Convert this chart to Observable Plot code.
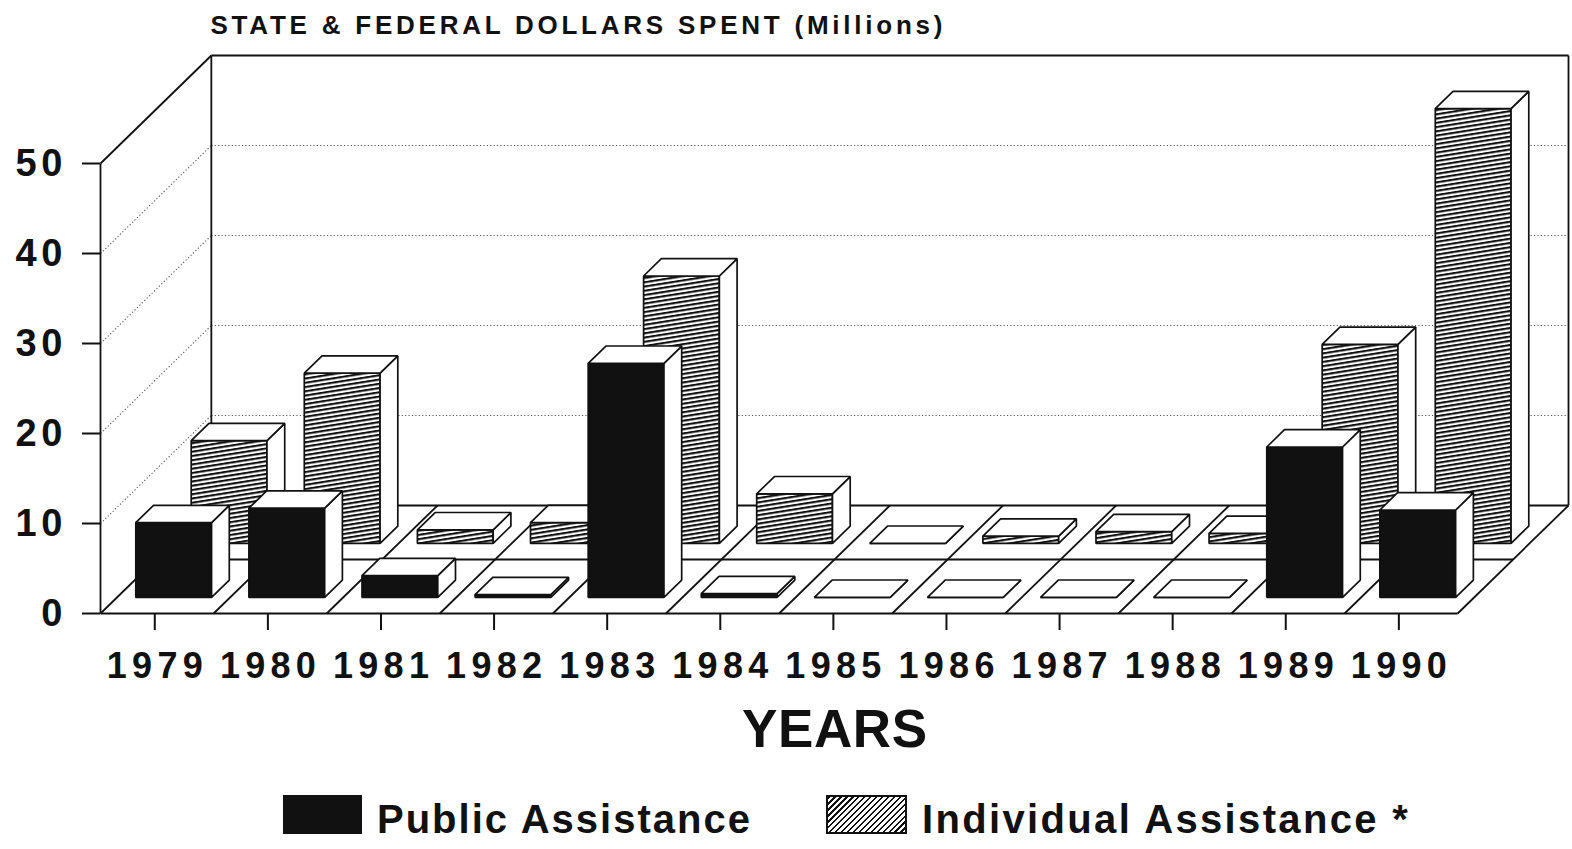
<!DOCTYPE html>
<html><head><meta charset="utf-8">
<script src="https://cdn.jsdelivr.net/npm/d3@7"></script>
<script src="https://cdn.jsdelivr.net/npm/@observablehq/plot@0.6"></script>
<style>
html,body{margin:0;padding:0;background:#fff;}
#wrap{position:relative;width:1572px;height:849px;overflow:hidden;font-family:"Liberation Sans",Arial,Helvetica,sans-serif;}
#wrap svg{position:absolute;left:0;top:0;}
.sw{position:absolute;box-sizing:border-box;}
.lt{position:absolute;font-weight:bold;font-size:40px;line-height:40px;white-space:nowrap;color:#111;}
</style></head><body>
<div id="wrap"></div>
<script>
// ---- data ----
const years = ["1979","1980","1981","1982","1983","1984","1985","1986","1987","1988","1989","1990"];
const publicAssistance     = [8.3, 9.9, 2.4, 0.3, 26.0, 0.4, 0, 0, 0, 0, 16.7, 9.7];
const individualAssistance = [11.4, 18.9, 1.5, 2.3, 29.7, 5.5, 0, 0.8, 1.3, 1.1, 22.1, 48.3];
const yTicks = [0, 10, 20, 30, 40, 50];
const seriesNames = ["Public Assistance", "Individual Assistance *"];
const seriesFills = ["#111", "url(#hatch)"];
const titleText = "STATE & FEDERAL DOLLARS SPENT (Millions)";
const xTitle = "YEARS";

// ---- 3D projection (layout constants) ----
const DX = 0.49;   // x-units shift per depth row
const DY = 6;      // y-units shift per depth row
const n = years.length;
const yMax = d3.max(yTicks);
const P = (x, y, z) => ({x: x + z * DX, y: y + z * DY});

// bar faces: back row (individual) first, then front row (public)
const faces = [];
function addFace(id, fill, pts) { pts.forEach(p => faces.push({id, fill, x: p.x, y: p.y})); }
[[1, individualAssistance, seriesFills[1]], [0, publicAssistance, seriesFills[0]]].forEach(([row, vals, fill]) => {
  vals.forEach((v, i) => {
    const xl = i + 0.165, xr = i + 0.835, zf = row + 0.3, zb = row + 0.62;
    const id = row + "-" + i;
    addFace(id + "f", fill,   [P(xl,0,zf), P(xr,0,zf), P(xr,v,zf), P(xl,v,zf)]);
    addFace(id + "s", "white",[P(xr,0,zf), P(xr,0,zb), P(xr,v,zb), P(xr,v,zf)]);
    addFace(id + "t", "white",[P(xl,v,zf), P(xr,v,zf), P(xr,v,zb), P(xl,v,zb)]);
  });
});

// frame segments
const solid = [], grid = [];
const seg = (arr, a, b) => arr.push({x1: a.x, y1: a.y, x2: b.x, y2: b.y});
[0, 1, 2].forEach(z => seg(solid, P(0,0,z), P(n,0,z)));
d3.range(n + 1).forEach(i => seg(solid, P(i,0,0), P(i,0,2)));
seg(solid, P(0,0,0), P(0,yMax,0));
seg(solid, P(0,yMax,0), P(0,yMax,2));
seg(solid, P(0,0,2), P(0,yMax,2));
seg(solid, P(0,yMax,2), P(n,yMax,2));
seg(solid, P(n,0,2), P(n,yMax,2));
yTicks.filter(v => v > 0 && v < yMax).forEach(v => {
  seg(grid, P(0,v,0), P(0,v,2));
  seg(grid, P(0,v,2), P(n,v,2));
});
const xTickPos = years.map((d, i) => i + 0.48);

const chart = Plot.plot({
  width: 1572, height: 849,
  marginLeft: 100, marginRight: 4, marginTop: 55, marginBottom: 236,
  x: {domain: [0, n + 2 * DX], axis: null},
  y: {domain: [0, yMax + 2 * DY], axis: null},
  color: {type: "identity"},
  style: {background: "white", color: "#111", fontFamily: '"Liberation Sans", Arial, Helvetica, sans-serif', overflow: "visible"},
  marks: [
    Plot.link(grid, {x1: "x1", y1: "y1", x2: "x2", y2: "y2", stroke: "#555", strokeWidth: 1.1, strokeDasharray: "1.2,2.2"}),
    Plot.link(solid, {x1: "x1", y1: "y1", x2: "x2", y2: "y2", stroke: "#111", strokeWidth: 1.8}),
    Plot.line(faces, {x: "x", y: "y", z: "id", fill: "fill", stroke: "#111", strokeWidth: 1.7, curve: "linear-closed", strokeLinejoin: "miter"}),
    Plot.axisY({ticks: yTicks, tickSize: 18, tickPadding: 20, fontSize: 38, fontWeight: "bold", strokeWidth: 2, tickFormat: d => String(d)}),
    Plot.axisX({ticks: xTickPos, tickSize: 17, tickPadding: 22, fontSize: 36, fontWeight: "bold", strokeWidth: 2,
      tickFormat: d => years[Math.floor(d)]}),
    Plot.text([xTitle], {text: d => d, frameAnchor: "bottom", dy: 133, lineAnchor: "bottom", fontSize: 53, fontWeight: "bold"}),
    Plot.text([titleText], {text: d => d, frameAnchor: "top-left", dx: 110, dy: -22, lineAnchor: "bottom", textAnchor: "start", fontSize: 26, fontWeight: "bold"})
  ]
});

// hatch pattern
const defs = d3.select(chart).insert("defs", ":first-child");
const pat = defs.append("pattern").attr("id", "hatch").attr("patternUnits", "userSpaceOnUse")
  .attr("width", 16).attr("height", 4.2).attr("patternTransform", "rotate(-9)");
pat.append("rect").attr("width", 16).attr("height", 4.2).attr("fill", "white");
pat.append("rect").attr("y", 0).attr("width", 16).attr("height", 2.1).attr("fill", "#111");

// text widths to match reference lettering
d3.select(chart).selectAll("text").each(function() {
  const t = this.textContent;
  if (t === titleText) this.setAttribute("textLength", 732);
  else if (t === xTitle) this.setAttribute("textLength", 185);
  else if (years.includes(t)) this.setAttribute("textLength", 96);
  else if (t.length === 2 && /^\d+$/.test(t)) this.setAttribute("textLength", 47);
});

const wrap = document.getElementById("wrap");
wrap.appendChild(chart);

// legend (below the chart area)
const legendItems = [
  {sw: {left: 283, top: 795, w: 79, h: 39}, text: {left: 377, top: 799, ls: 2.0}},
  {sw: {left: 826, top: 795, w: 81, h: 39}, text: {left: 922, top: 799, ls: 2.35}}
];
seriesNames.forEach((name, k) => {
  const it = legendItems[k];
  const s = document.createElement("div");
  s.className = "sw";
  Object.assign(s.style, {left: it.sw.left + "px", top: it.sw.top + "px", width: it.sw.w + "px", height: it.sw.h + "px"});
  if (k === 0) s.style.background = seriesFills[0];
  else { s.style.border = "2px solid #111"; s.style.background = "repeating-linear-gradient(135deg, #111 0 1.6px, #fff 1.6px 4.2px)"; }
  wrap.appendChild(s);
  const t = document.createElement("div");
  t.className = "lt";
  t.textContent = name;
  Object.assign(t.style, {left: it.text.left + "px", top: it.text.top + "px", letterSpacing: it.text.ls + "px"});
  wrap.appendChild(t);
});
</script>
</body></html>
